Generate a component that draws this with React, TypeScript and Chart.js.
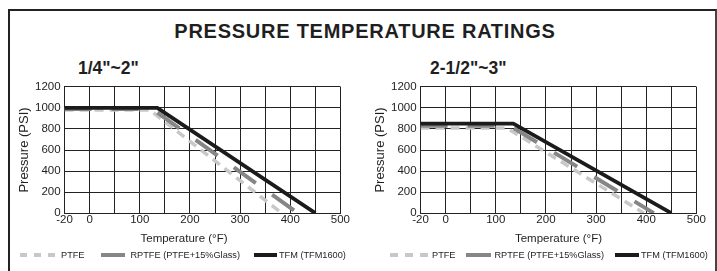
import React, { useEffect, useRef } from "react";
import { Chart, registerables } from "chart.js";

Chart.register(...registerables);

const FONT = "'Liberation Sans', Arial, Helvetica, sans-serif";
const INK = "#1f1f1f";

// ---------- text ----------
const mainTitle = "PRESSURE TEMPERATURE RATINGS";
const xAxisTitle = "Temperature (°F)";
const yAxisTitle = "Pressure (PSI)";
const seriesNames = ["PTFE", "RPTFE (PTFE+15%Glass)", "TFM (TFM1600)"];
const seriesColors = ["#c8c8c8", "#868686", "#1b1b1b"];

// ---------- axes ----------
// the temperature axis is drawn with -20 one grid step left of 0
const xTickValues = [-20, 0, 100, 200, 300, 400, 500];
const yTickValues = [0, 200, 400, 600, 800, 1000, 1200];

// ---------- panel 1: 1/4"~2" ----------
const smallTitle = '1/4"~2"';
const smallPTFE_T = [-20, 120, 383];
const smallPTFE_P = [980, 980, 0];
const smallRPTFE_T = [-20, 125, 415];
const smallRPTFE_P = [990, 990, 0];
const smallTFM_T = [-20, 135, 450];
const smallTFM_P = [1000, 1000, 0];

// ---------- panel 2: 2-1/2"~3" ----------
const largeTitle = '2-1/2"~3"';
const largePTFE_T = [-20, 122, 395];
const largePTFE_P = [810, 810, 0];
const largeRPTFE_T = [-20, 128, 415];
const largeRPTFE_P = [830, 830, 0];
const largeTFM_T = [-20, 135, 450];
const largeTFM_P = [850, 850, 0];

// map a temperature onto the (non-uniform) axis: -20 sits one 50-step left of 0
const axisPos = (t: number) => (t < 0 ? t * 2.5 : t);
const xTickPositions = xTickValues.map(axisPos);

const seriesStyle = [
  { width: 3.5, dash: [9, 6], order: 2 },
  { width: 4, dash: [27, 20], order: 1 },
  { width: 3.8, dash: [] as number[], order: 0 },
];

function makeDatasets(temps: number[][], press: number[][]) {
  return temps.map((T, s) => ({
    label: seriesNames[s],
    data: T.map((t, i) => ({ x: axisPos(t), y: press[s][i] })),
    borderColor: seriesColors[s],
    backgroundColor: seriesColors[s],
    borderWidth: seriesStyle[s].width,
    borderDash: seriesStyle[s].dash,
    pointRadius: 0,
    tension: 0,
    fill: false,
    order: seriesStyle[s].order,
  }));
}

function makeConfig(temps: number[][], press: number[][], titleInAxis: boolean): any {
  const tickFont = { family: FONT, size: 11.5, lineHeight: 1.2 };
  const xTitleFont = { family: FONT, size: 11.5, lineHeight: 1.2, weight: "normal" as const };
  return {
    type: "line",
    data: { datasets: makeDatasets(temps, press) },
    options: {
      animation: false,
      responsive: false,
      maintainAspectRatio: false,
      devicePixelRatio: 1,
      layout: { padding: 0 },
      plugins: {
        legend: { display: false },
        tooltip: { enabled: false },
        title: titleInAxis
          ? { display: false }
          : {
              display: true,
              text: xAxisTitle,
              position: "bottom",
              color: INK,
              font: xTitleFont,
              padding: { top: 5.3, bottom: 0 },
            },
      },
      scales: {
        x: {
          type: "linear",
          min: -50,
          max: 500,
          ticks: {
            stepSize: 50,
            autoSkip: false,
            maxRotation: 0,
            padding: 0,
            color: INK,
            font: tickFont,
            callback: (v: any) => {
              const i = xTickPositions.indexOf(Number(v));
              return i >= 0 ? String(xTickValues[i]) : "";
            },
          },
          grid: { color: "#222", lineWidth: 1, drawTicks: false },
          border: { color: "#222", width: 1 },
          title: titleInAxis
            ? {
                display: true,
                text: xAxisTitle,
                color: INK,
                font: xTitleFont,
                padding: { top: 5.3, bottom: 0 },
              }
            : { display: false },
        },
        y: {
          type: "linear",
          min: yTickValues[0],
          max: yTickValues[yTickValues.length - 1],
          ticks: {
            stepSize: yTickValues[1] - yTickValues[0],
            padding: 4,
            color: INK,
            font: tickFont,
            callback: (v: any) => String(v),
          },
          grid: { color: "#222", lineWidth: 1, drawTicks: false },
          border: { color: "#222", width: 1 },
          title: {
            display: true,
            text: yAxisTitle,
            color: INK,
            font: { family: FONT, size: 13, lineHeight: 1 },
            padding: 0,
          },
        },
      },
    },
  };
}

function PanelChart({ config, left, top }: { config: any; left: number; top: number }) {
  const ref = useRef<HTMLCanvasElement>(null);
  useEffect(() => {
    const chart = new Chart(ref.current as HTMLCanvasElement, config);
    return () => chart.destroy();
  }, []);
  return (
    <canvas
      ref={ref}
      width={332}
      height={170}
      style={{ position: "absolute", left, top, width: 332, height: 170 }}
    />
  );
}

type LegendLayout = { start: number; sampleW: number[]; textGap: number[]; itemGap: number[]; dash: number[] };

function HtmlLegend({ layout, top }: { layout: LegendLayout; top: number }) {
  return (
    <div
      style={{
        position: "absolute",
        left: layout.start,
        top,
        height: 12,
        display: "flex",
        alignItems: "center",
        whiteSpace: "nowrap",
        fontFamily: FONT,
        fontSize: 9.2,
        color: INK,
        willChange: "transform",
      }}
    >
      {seriesNames.map((name, i) => (
        <div
          key={name}
          style={{
            display: "flex",
            alignItems: "center",
            marginRight: i < seriesNames.length - 1 ? layout.itemGap[i] : 0,
          }}
        >
          <svg width={layout.sampleW[i]} height={4} style={{ display: "block", marginRight: layout.textGap[i] }}>
            <line
              x1={0}
              y1={2}
              x2={layout.sampleW[i]}
              y2={2}
              stroke={seriesColors[i]}
              strokeWidth={4}
              strokeDasharray={i === 0 ? layout.dash.join(" ") : undefined}
            />
          </svg>
          <span style={{ lineHeight: "12px" }}>{name}</span>
        </div>
      ))}
    </div>
  );
}

const leftLegend: LegendLayout = { start: 20, sampleW: [35, 24, 23], textGap: [6, 5, 2], itemGap: [17, 14], dash: [7, 7] };
const rightLegend: LegendLayout = { start: 390, sampleW: [38, 25, 24], textGap: [4, 3, 2], itemGap: [11, 11], dash: [8, 7] };

export default function App() {
  const smallConfig = makeConfig(
    [smallPTFE_T, smallRPTFE_T, smallTFM_T],
    [smallPTFE_P, smallRPTFE_P, smallTFM_P],
    false
  );
  const largeConfig = makeConfig(
    [largePTFE_T, largeRPTFE_T, largeTFM_T],
    [largePTFE_P, largeRPTFE_P, largeTFM_P],
    true
  );
  return (
    <div
      style={{
        position: "fixed",
        left: 0,
        top: 0,
        width: 717,
        height: 271,
        overflow: "hidden",
        background: "#fff",
        fontFamily: FONT,
      }}
    >
      <div
        style={{
          position: "absolute",
          left: 8,
          top: 9,
          width: 709,
          height: 400,
          boxSizing: "border-box",
          borderTop: "2px solid #222",
          borderLeft: "2px solid #222",
          borderRight: "2px solid #444",
        }}
      />
      <div
        style={{
          position: "absolute",
          left: 0,
          top: 21,
          width: 730,
          textAlign: "center",
          fontSize: 20,
          lineHeight: "20px",
          fontWeight: "bold",
          letterSpacing: 0.75,
          color: INK,
          whiteSpace: "nowrap",
        }}
      >
        {mainTitle}
      </div>
      <div
        style={{
          position: "absolute",
          left: 78,
          top: 60,
          fontSize: 17.5,
          lineHeight: "17.5px",
          fontWeight: "bold",
          color: INK,
          whiteSpace: "nowrap",
        }}
      >
        {smallTitle}
      </div>
      <div
        style={{
          position: "absolute",
          left: 430,
          top: 60,
          fontSize: 17.5,
          lineHeight: "17.5px",
          fontWeight: "bold",
          color: INK,
          whiteSpace: "nowrap",
        }}
      >
        {largeTitle}
      </div>
      <PanelChart config={smallConfig} left={18} top={76} />
      <PanelChart config={largeConfig} left={374} top={76} />
      <HtmlLegend layout={leftLegend} top={249} />
      <HtmlLegend layout={rightLegend} top={249} />
    </div>
  );
}
